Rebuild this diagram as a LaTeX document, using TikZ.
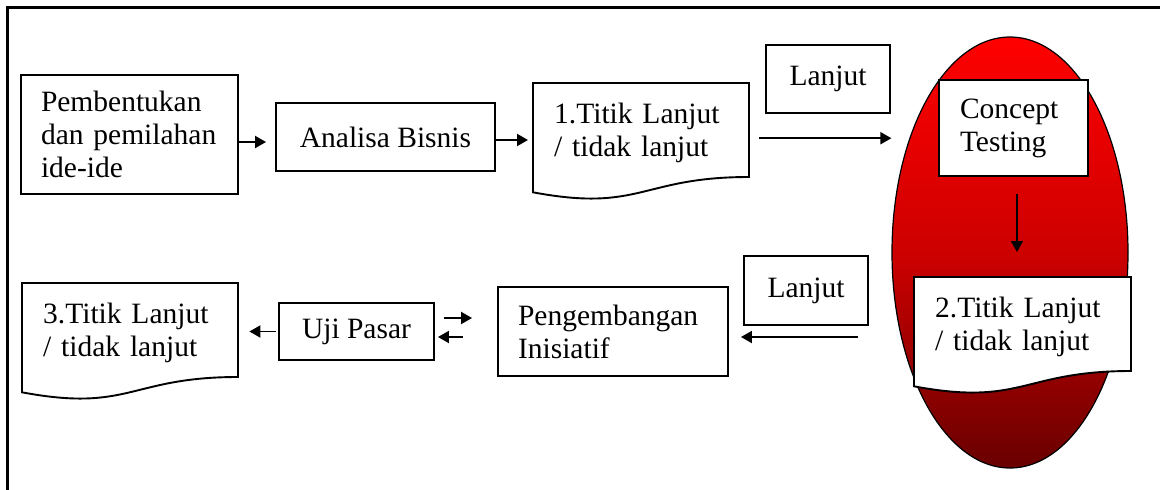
\documentclass[tikz,border=0pt]{standalone}
\usepackage{fontspec}
\setmainfont{Liberation Serif}
\usepackage{tikz}
\usetikzlibrary{arrows.meta,calc,positioning,shapes.geometric}
\definecolor{ovtop}{RGB}{255,0,0}
\definecolor{ovmid}{RGB}{205,0,0}
\definecolor{ovbot}{RGB}{105,0,0}
\tikzset{
  box/.style={draw,line width=1.9pt,fill=white,inner sep=0pt},
  leftbox/.style={box,align=left},
  doctext/.style={inner ysep=0pt,inner xsep=21pt,align=left},
  docline/.style={draw,line width=1.9pt,fill=white},
  arr/.style={-{Triangle[length=11pt,width=12pt]},line width=1.9pt},
}
\newcommand{\docnode}[5]{%
  \path[docline] (#2,#3) -- ({#2+#4},#3) -- ({#2+#4},{#3+94})
    .. controls ({#2+#4/2},{#3+94}) and ({#2+#4/2},{#3+129.6}) .. (#2,{#3+109.3}) -- cycle;
  \pgfmathsetmacro\doctw{#4-42}
  \node[doctext,text width=\doctw pt,minimum height=94pt,anchor=north west]
    (#1) at (#2,{#3+3}) {#5};
}

\begin{document}
\begin{tikzpicture}[x=1pt,y=-1pt,font=\fontsize{29.5}{33}\selectfont]
  \useasboundingbox (0,0) rectangle (1160,490);
  \draw[line width=2.2pt] (7.5,495) -- (7.5,7.5) -- (1165,7.5);

  \node[leftbox,text width=177pt,inner xsep=20pt,minimum height=119pt] (ideas) at (129.5,134.5)
    {Pembentukan\\dan pemilahan\\ide-ide};
  \node[box,minimum width=219pt,minimum height=68pt] (bisnis) at (385.5,137) {Analisa Bisnis};
  \docnode{titik1}{533}{83}{216}{1.Titik Lanjut\\/ tidak lanjut}
  \node[box,minimum width=124pt,minimum height=68pt] (lanjut1) at (828,79) {Lanjut};

  \node[ellipse,draw,line width=1.2pt,inner sep=0pt,minimum width=236pt,minimum height=431pt,
    top color=ovtop,bottom color=ovbot,middle color=ovmid] (oval) at (1010,252.5) {};
  \node[leftbox,text width=107pt,inner xsep=21pt,minimum height=96pt] (concept) at (1013.5,128)
    {Concept\\Testing};
  \docnode{titik2}{914}{277}{217}{2.Titik Lanjut\\/ tidak lanjut}

  \node[box,minimum width=124pt,minimum height=69pt] (lanjut2) at (806,290.5) {Lanjut};
  \node[leftbox,text width=190pt,inner xsep=20pt,minimum height=89pt] (kembang) at (613,331.5)
    {Pengembangan\\Inisiatif};
  \node[box,minimum width=155pt,minimum height=57pt] (uji) at (356.5,331.5) {Uji Pasar};
  \docnode{titik3}{22}{283}{216}{3.Titik Lanjut\\/ tidak lanjut}

  \draw[arr,shorten >=9pt] ([yshift=-5pt]bisnis.west -| ideas.east) -- ([yshift=-5pt]bisnis.west);
  \draw[arr,shorten >=5pt] ([yshift=-3pt]bisnis.east) -- ([yshift=-3pt]bisnis.east -| titik1.west);
  \draw[arr,shorten <=10pt] ([yshift=-5pt]titik1.east) -- ([yshift=-5pt]titik1.east -| oval.west);
  \draw[arr,shorten <=17pt,shorten >=28pt] ([xshift=3.5pt]concept.south)
    -- ([xshift=3.5pt]concept.south |- titik2.north);
  \draw[arr,shorten <=56pt,shorten >=12pt] ([yshift=-5.5pt]kembang.east -| titik2.west)
    -- ([yshift=-5.5pt]kembang.east);
  \draw[arr,shorten <=9pt,shorten >=25pt] ([yshift=13.5pt]uji.east) -- ([yshift=13.5pt]uji.east -| kembang.west);
  \draw[arr,shorten <=34pt,shorten >=3pt] ([yshift=-5.5pt]uji.east -| kembang.west) -- ([yshift=-5.5pt]uji.east);
  \draw[arr,shorten <=2pt,shorten >=11pt] (uji.west) -- (uji.west -| titik3.east);
\end{tikzpicture}
\end{document}
